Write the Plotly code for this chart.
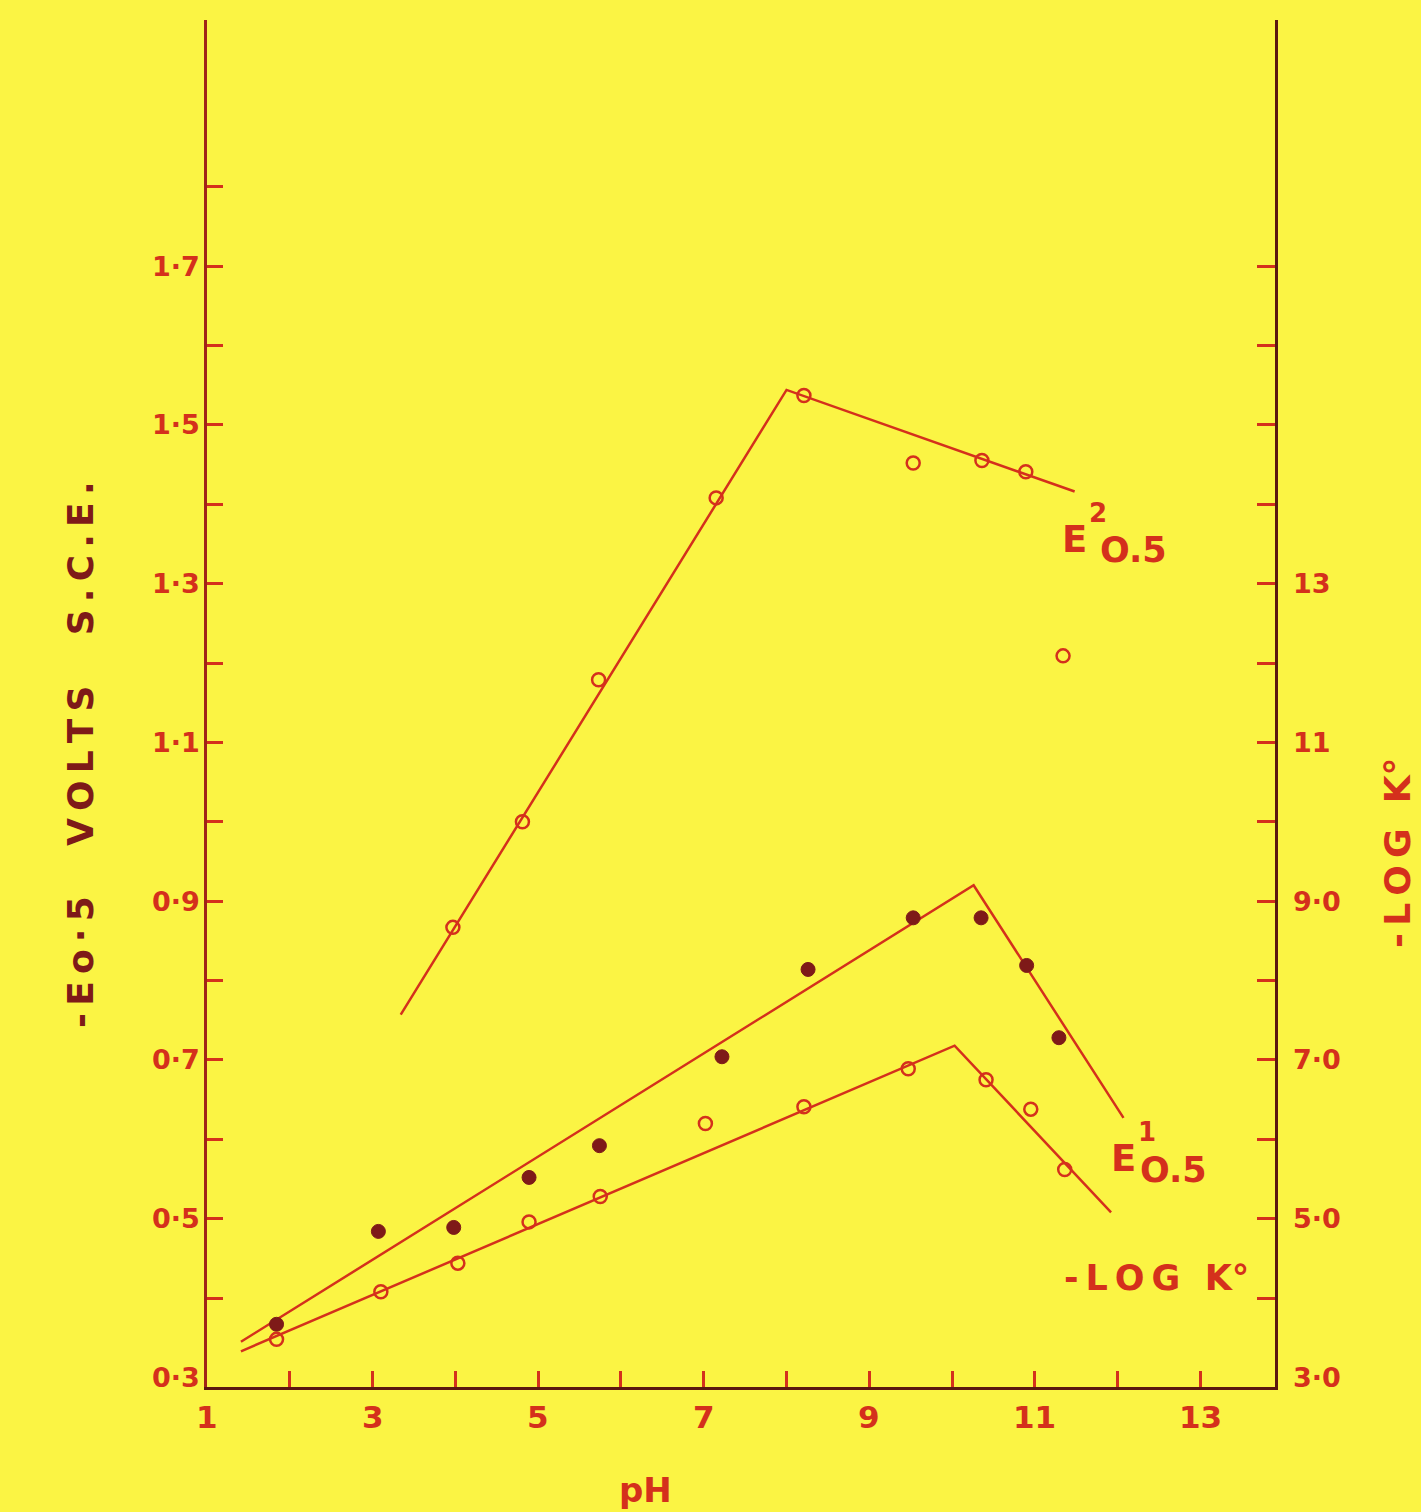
import plotly.graph_objects as go

# ---------------- data ----------------
e2_ph = [3.97, 4.81, 5.73, 7.15, 8.21, 9.53, 10.36, 10.89, 11.34]
e2_v = [0.867, 1.000, 1.179, 1.408, 1.537, 1.452, 1.455, 1.441, 1.209]
e2_line_ph = [3.34, 8.0, 11.48]
e2_line_v = [0.757, 1.544, 1.416]

e1_ph = [1.84, 3.07, 3.98, 4.89, 5.74, 7.22, 8.26, 9.53, 10.35, 10.90, 11.29]
e1_v = [0.367, 0.484, 0.489, 0.552, 0.592, 0.704, 0.814, 0.879, 0.879, 0.819, 0.728]
e1_line_ph = [1.41, 10.26, 12.07]
e1_line_v = [0.345, 0.920, 0.627]

logk_ph = [1.84, 3.10, 4.03, 4.89, 5.75, 7.02, 8.21, 9.47, 10.41, 10.95, 11.36]
logk_v = [3.48, 4.08, 4.44, 4.96, 5.28, 6.20, 6.41, 6.89, 6.75, 6.38, 5.62]
logk_line_ph = [1.41, 10.03, 11.92]
logk_line_v = [3.33, 7.18, 5.08]

x_tickvals = list(range(2, 14))
x_labelvals = [1, 3, 5, 7, 9, 11, 13]
y_tickvals = [round(0.4 + 0.1 * i, 1) for i in range(15)]
y_labelvals = [0.3, 0.5, 0.7, 0.9, 1.1, 1.3, 1.5, 1.7]
y_labeltext = ["0·3", "0·5", "0·7", "0·9", "1·1", "1·3", "1·5", "1·7"]
y2_tickvals = list(range(4, 18))
y2_labelvals = [3, 5, 7, 9, 11, 13]
y2_labeltext = ["3·0", "5·0", "7·0", "9·0", "11", "13"]

# ---------------- style ----------------
BG = "#FBF444"
RED = "#D4301C"
DARK = "#7E1A18"
AXIS = "#5A1810"
FONT = "DejaVu Sans"
TS = "\u2009"  # thin space for letter spacing

W, H = 1421, 1512
L, R, T, B = 207, 1275, 20, 1387

def px(x, y):
    return (x - L) / (R - L), (B - y) / (B - T)

fig = go.Figure()

fig.add_trace(go.Scatter(x=e2_line_ph, y=e2_line_v, mode="lines",
                         line=dict(color=RED, width=2.5), showlegend=False))
fig.add_trace(go.Scatter(x=e1_line_ph, y=e1_line_v, mode="lines",
                         line=dict(color=RED, width=2.5), showlegend=False))
fig.add_trace(go.Scatter(x=logk_line_ph, y=logk_line_v, mode="lines", yaxis="y2",
                         line=dict(color=RED, width=2.5), showlegend=False))

fig.add_trace(go.Scatter(x=e2_ph, y=e2_v, mode="markers",
                         marker=dict(symbol="circle-open", size=13, color=RED,
                                     line=dict(width=2.5, color=RED)),
                         showlegend=False))
fig.add_trace(go.Scatter(x=logk_ph, y=logk_v, mode="markers", yaxis="y2",
                         marker=dict(symbol="circle-open", size=13, color=RED,
                                     line=dict(width=2.5, color=RED)),
                         showlegend=False))
fig.add_trace(go.Scatter(x=e1_ph, y=e1_v, mode="markers",
                         marker=dict(symbol="circle", size=14, color=DARK,
                                     line=dict(width=1, color=DARK)),
                         showlegend=False))

yr = [0.288, 2.01]
xr = [1, 13.9]

fig.update_layout(
    width=W, height=H,
    margin=dict(l=L, r=W - R, t=T, b=H - B, pad=0),
    paper_bgcolor=BG, plot_bgcolor=BG,
    font=dict(family=FONT, color=RED),
    xaxis=dict(range=xr, showgrid=False, zeroline=False,
               showline=True, linecolor=AXIS, linewidth=3,
               ticks="inside", ticklen=16, tickwidth=2.5, tickcolor=RED,
               tickvals=x_tickvals, showticklabels=False),
    yaxis=dict(range=yr, showgrid=False, zeroline=False,
               showline=True, linecolor="#A02418", linewidth=3,
               ticks="inside", ticklen=16, tickwidth=2.5, tickcolor=RED,
               tickvals=y_tickvals, showticklabels=False),
    yaxis2=dict(range=[yr[0] * 10, yr[1] * 10], overlaying="y", side="right",
                showgrid=False, zeroline=False,
                showline=True, linecolor=AXIS, linewidth=3,
                ticks="inside", ticklen=18, tickwidth=2.5, tickcolor=RED,
                tickvals=y2_tickvals, showticklabels=False),
)

# tick labels as axis-anchored annotations (placed through the axes' scales)
for v in x_labelvals:
    fig.add_annotation(x=v, y=0, xref="x", yref="paper", text="<b>%d</b>" % v,
                       showarrow=False, yanchor="top", yshift=-10,
                       font=dict(size=31, color=RED, family=FONT))
for v, t in zip(y_labelvals, y_labeltext):
    fig.add_annotation(x=0, y=v, xref="paper", yref="y", text="<b>%s</b>" % t,
                       showarrow=False, xanchor="right", xshift=-5,
                       font=dict(size=27, color=RED, family=FONT))
for v, t in zip(y2_labelvals, y2_labeltext):
    fig.add_annotation(x=1, y=v, xref="paper", yref="y2", text="<b>%s</b>" % t,
                       showarrow=False, xanchor="left", xshift=16,
                       font=dict(size=27, color=RED, family=FONT))

def ann(text, x, y, size, color=RED, angle=0, xanchor="center"):
    ax, ay = px(x, y)
    fig.add_annotation(text="<b>%s</b>" % text, x=ax, y=ay, xref="paper", yref="paper",
                       showarrow=False, xanchor=xanchor, yanchor="middle",
                       textangle=angle,
                       font=dict(size=size, color=color, family=FONT))

# axis titles
left_title = TS.join("-Eo·5") + "    " + TS.join("VOLTS") + "    " + TS.join("S.C.E.")
ann(left_title, 80, 755, 36, color=DARK, angle=-90)
ann(TS.join("-LOG") + "  K°", 1398, 852, 36, color=RED, angle=-90)
ann("pH", 645, 1490, 34, color=RED)

# curve labels
ann("E", 1074, 539, 37)
ann("2", 1098, 513, 26)
ann("O.5", 1133, 550, 35)
ann("E", 1123, 1158, 37)
ann("1", 1147, 1132, 26)
ann("O.5", 1173, 1170, 35)
ann(TS.join("-LOG") + "  K°", 1156, 1278, 35)

fig.write_html(
    "out.html",
    config={"displayModeBar": False},
    post_script="document.body.style.margin='0';document.body.style.background='%s';" % BG,
)
